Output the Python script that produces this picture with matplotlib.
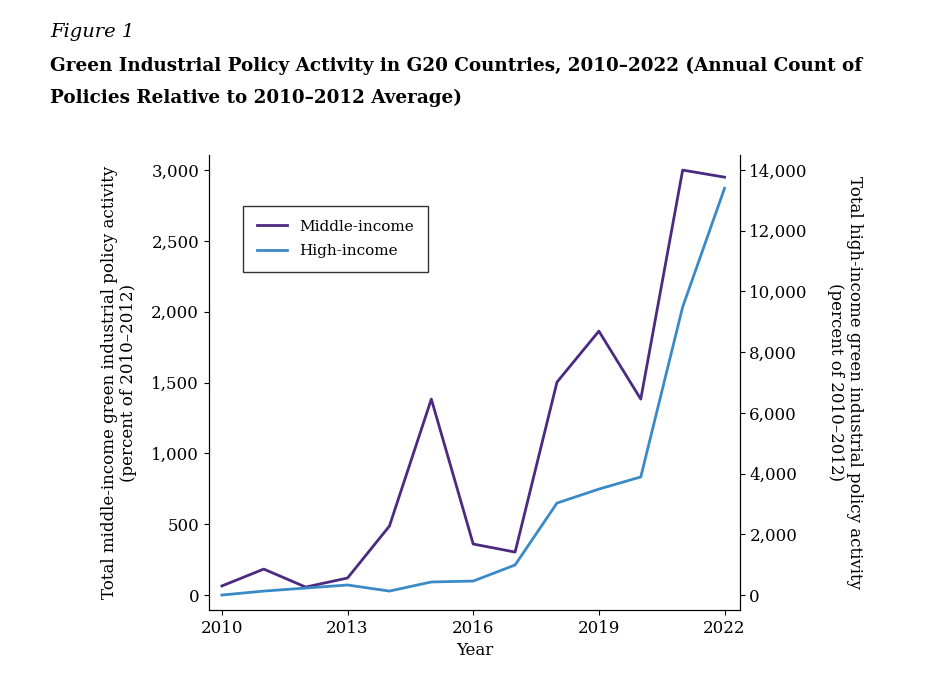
import matplotlib.pyplot as plt

years = list(range(2010, 2023))
middle_income = [64, 183, 56, 120, 487, 1383, 360, 303, 1503, 1863, 1383, 3000, 2950]
high_income = [0, 130, 230, 330, 130, 430, 460, 990, 3030, 3490, 3890, 9490, 13400]

plt.rcParams['font.family'] = ['DejaVu Serif']
fig = plt.figure(figsize=(9.41, 6.76), dpi=100)
ax = fig.add_axes([0.222, 0.0976, 0.564, 0.673])
ax2 = ax.twinx()

l1, = ax.plot(years, middle_income, color='#4b2a82', lw=2, label='Middle-income')
l2, = ax2.plot(years, high_income, color='#3b8ac8', lw=2, label='High-income')

ax.set_xlim(2009.69, 2022.36)
ax.set_ylim(-106, 3106)
ax2.set_ylim(-494, 14494)
ax.set_xticks([2010, 2013, 2016, 2019, 2022])
ax.set_yticks(range(0, 3001, 500))
ax.set_yticklabels([f"{v:,}" for v in range(0, 3001, 500)])
ax2.set_yticks(range(0, 14001, 2000))
ax2.set_yticklabels([f"{v:,}" for v in range(0, 14001, 2000)])
for a in (ax, ax2):
    a.spines['top'].set_visible(False)
    a.tick_params(labelsize=12)
ax.set_xlabel("Year", fontsize=12)
ax.set_ylabel("Total middle-income green industrial policy activity\n(percent of 2010–2012)", fontsize=12,
              labelpad=10)
ax2.set_ylabel("Total high-income green industrial policy activity\n(percent of 2010–2012)", fontsize=12,
               rotation=270, labelpad=40)
ax.legend(handles=[l1, l2], loc='upper left', bbox_to_anchor=(0.05, 0.905), fontsize=11,
          fancybox=False, edgecolor='black', handlelength=2, borderpad=0.9, labelspacing=0.7)

fig.text(0.053, 0.945, "Figure 1", fontsize=14, style='italic')
fig.text(0.053, 0.895, "Green Industrial Policy Activity in G20 Countries, 2010–2022 (Annual Count of",
         fontsize=13.2, weight='bold')
fig.text(0.053, 0.848, "Policies Relative to 2010–2012 Average)", fontsize=13.2, weight='bold')

fig.savefig("out.png", dpi=100)
